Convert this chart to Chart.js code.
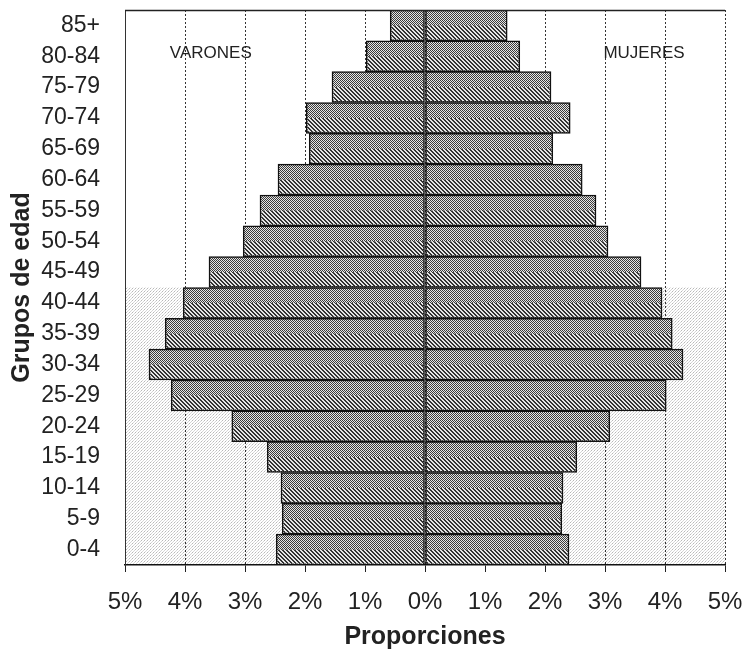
<!DOCTYPE html>
<html>
<head>
<meta charset="utf-8">
<script src="https://cdn.jsdelivr.net/npm/chart.js@4"></script>
<style>
  html, body { margin: 0; padding: 0; background: #fff; }
  #wrap { width: 742px; height: 655px; }
</style>
</head>
<body>
<div id="wrap"><canvas id="pyramid" width="742" height="655"></canvas></div>
<script>
// age groups, top row first
const grupos = ["85+", "80-84", "75-79", "70-74", "65-69", "60-64", "55-59", "50-54", "45-49",
    "40-44", "35-39", "30-34", "25-29", "20-24", "15-19", "10-14", "5-9", "0-4"];
// percentages
const varones = [0.58, 0.98, 1.55, 1.98, 1.93, 2.45, 2.75, 3.03, 3.6, 4.03, 4.33, 4.6, 4.23, 3.22, 2.63, 2.4, 2.38, 2.48];
const mujeres = [1.37, 1.58, 2.1, 2.42, 2.13, 2.62, 2.85, 3.05, 3.6, 3.95, 4.12, 4.3, 4.02, 3.08, 2.53, 2.3, 2.28, 2.4];
const xMin = -5, xMax = 5;
const shadedFrom = "40-44"; // scan is greyed from this row down

const FONT = "'Liberation Sans', Arial, sans-serif";

function makePattern(size, paint) {
    const c = document.createElement("canvas");
    c.width = size; c.height = size;
    const g = c.getContext("2d");
    paint(g);
    return g.createPattern(c, "repeat");
}

const checker = makePattern(2, g => {
    g.fillStyle = "#e6e6e6"; g.fillRect(0, 0, 2, 2);
    g.fillStyle = "#3a3a3a"; g.fillRect(0, 0, 1, 1); g.fillRect(1, 1, 1, 1);
});
const stripes = makePattern(4, g => {
    g.fillStyle = "#e6e6e6"; g.fillRect(0, 0, 4, 4);
    g.fillStyle = "#333";
    for (let i = 0; i < 4; i++) { g.fillRect(i, i, 1, 1); g.fillRect((i + 1) % 4, i, 1, 1); }
});
const dots = makePattern(3, g => {
    g.fillStyle = "#fff"; g.fillRect(0, 0, 3, 3);
    g.fillStyle = "#b8b8b8"; g.fillRect(0, 0, 1, 1);
    g.fillStyle = "#d6d6d6"; g.fillRect(1, 2, 1, 1); g.fillRect(2, 1, 1, 1);
});

// grey dotted background + top frame line
const backdrop = {
    id: "backdrop",
    beforeDraw(chart) {
        const { ctx, chartArea: a, scales: { y } } = chart;
        const i = grupos.indexOf(shadedFrom);
        const top = (y.getPixelForValue(i - 1) + y.getPixelForValue(i)) / 2;
        ctx.save();
        ctx.fillStyle = dots;
        ctx.fillRect(a.left, top, a.right - a.left, a.bottom - top);
        ctx.restore();
    },
    afterDraw(chart) {
        const { ctx, chartArea: a } = chart;
        ctx.save();
        ctx.strokeStyle = "#222";
        ctx.lineWidth = 1.5;
        ctx.beginPath();
        ctx.moveTo(a.left, a.top + 0.5);
        ctx.lineTo(a.right, a.top + 0.5);
        ctx.stroke();
        ctx.restore();
    }
};

// lower half of each bar is hatched instead of checkered
const hatch = {
    id: "hatch",
    afterDatasetsDraw(chart) {
        const ctx = chart.ctx;
        ctx.save();
        chart.data.datasets.forEach((ds, di) => {
            chart.getDatasetMeta(di).data.forEach(bar => {
                const p = bar.getProps(["x", "y", "base", "height"], true);
                const l = Math.min(p.x, p.base) + 1.5, r = Math.max(p.x, p.base) - 1.5;
                ctx.fillStyle = stripes;
                ctx.fillRect(l, p.y, r - l, p.height / 2 - 1.5);
            });
        });
        ctx.restore();
    }
};

const sexLabels = {
    id: "sexLabels",
    afterDraw(chart) {
        const { ctx, scales: { x, y } } = chart;
        ctx.save();
        ctx.font = "17px " + FONT;
        ctx.fillStyle = "#222";
        ctx.textAlign = "center";
        ctx.textBaseline = "middle";
        const yy = y.getPixelForValue(1) - 3;
        ctx.fillText("VARONES", x.getPixelForValue(-3.57), yy);
        ctx.fillText("MUJERES", x.getPixelForValue(3.65), yy);
        ctx.restore();
    }
};

const barStyle = {
    backgroundColor: checker,
    borderColor: "#111",
    borderWidth: 1.5,
    borderSkipped: false,
    barPercentage: 1,
    categoryPercentage: 1
};

new Chart(document.getElementById("pyramid"), {
    type: "bar",
    data: {
        labels: grupos,
        datasets: [
            Object.assign({ label: "Varones", data: varones.map(v => -v) }, barStyle),
            Object.assign({ label: "Mujeres", data: mujeres }, barStyle)
        ]
    },
    options: {
        indexAxis: "y",
        responsive: false,
        animation: false,
        layout: { padding: { top: 10, right: 17, left: 0, bottom: 0 } },
        plugins: {
            legend: { display: false },
            tooltip: { enabled: false }
        },
        scales: {
            x: {
                stacked: true,
                min: xMin,
                max: xMax,
                afterFit: s => { s.height = 90; s.paddingLeft = 0; s.paddingRight = 0; },
                ticks: {
                    stepSize: 1,
                    color: "#222",
                    padding: 16,
                    maxRotation: 0,
                    font: { family: FONT, size: 24 },
                    callback: v => Math.abs(v) + "%"
                },
                grid: { color: "#333", lineWidth: 1, tickLength: 7, tickColor: "#222" },
                border: { color: "#111", width: 1.5, dash: [2, 2] },
                title: {
                    display: true,
                    text: "Proporciones",
                    color: "#222",
                    font: { family: FONT, size: 25, weight: "bold" },
                    padding: { top: 4, bottom: 3 }
                }
            },
            y: {
                stacked: true,
                afterFit: s => { s.width = 125; s.paddingTop = 0; s.paddingBottom = 0; },
                ticks: {
                    color: "#222",
                    padding: 17,
                    font: { family: FONT, size: 23 }
                },
                grid: { display: false },
                border: { color: "#333", width: 1, dash: [2, 2] },
                title: {
                    display: true,
                    text: "Grupos de edad",
                    color: "#222",
                    font: { family: FONT, size: 25, weight: "bold" },
                    padding: { top: 7, bottom: 0 }
                }
            }
        }
    },
    plugins: [backdrop, hatch, sexLabels]
});
</script>
</body>
</html>
